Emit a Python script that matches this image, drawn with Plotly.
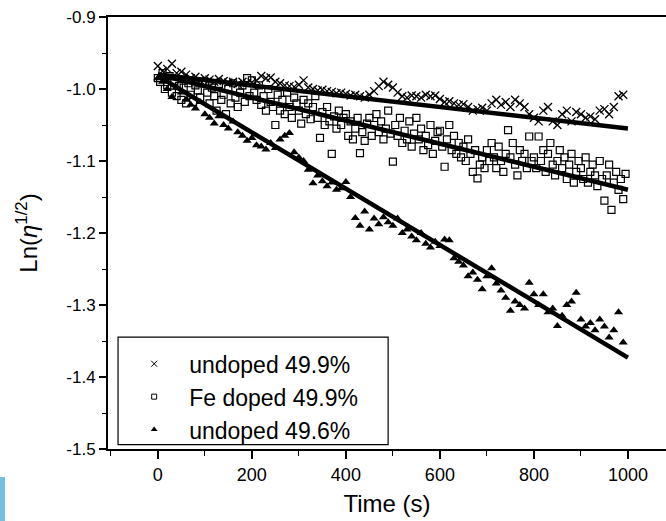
import plotly.graph_objects as go

# ---------------- data ----------------
time_10s = list(range(0, 1000, 10))
time_5s = list(range(0, 1000, 5))

undoped_499 = [
    -0.968, -0.975, -0.972, -0.965, -0.978, -0.976, -0.980, -0.985, -0.983, -0.988,
    -0.985, -0.987, -0.990, -0.986, -0.989, -0.991, -0.990, -0.993, -0.990, -0.992,
    -0.991, -0.988, -0.982, -0.985, -0.984, -0.990, -0.992, -0.995, -0.996, -0.997,
    -0.994, -0.988, -0.998, -1.000, -1.002, -1.001, -1.003, -1.004, -1.006, -1.005,
    -1.007, -1.009, -1.008, -1.010, -1.012, -1.008, -1.003, -0.996, -0.990, -0.994,
    -0.998, -1.005, -1.010, -1.012, -1.009, -1.010, -1.012, -1.008, -1.010, -1.009,
    -1.014, -1.018, -1.017, -1.020, -1.022, -1.021, -1.025, -1.030, -1.028, -1.026,
    -1.030, -1.020, -1.015, -1.022, -1.018, -1.025, -1.015, -1.020, -1.025, -1.035,
    -1.040, -1.045, -1.030, -1.025, -1.045, -1.050, -1.035, -1.030, -1.045, -1.032,
    -1.035, -1.040, -1.038, -1.042, -1.030, -1.028, -1.035, -1.025, -1.010, -1.008,
]

fe_doped_499 = [
    -0.985, -0.990, -0.978, -1.000, -0.995, -0.982, -1.005, -0.990, -1.010, -0.996,
    -1.015, -0.998, -1.020, -0.992, -1.008, -1.018, -0.995, -1.002, -1.012, -0.990,
    -0.990, -1.005, -1.020, -0.998, -1.010, -1.030, -0.993, -1.015, -1.008, -1.035,
    -1.000, -1.020, -0.992, -1.012, -1.025, -1.005, -0.995, -1.018, -0.985, -1.010,
    -0.988, -1.005, -1.015, -0.995, -1.022, -1.010, -1.030, -1.000, -1.018, -1.025,
    -1.050, -1.008, -1.030, -1.015, -1.035, -1.005, -1.025, -1.040, -1.012, -1.020,
    -1.030, -1.048, -1.015, -1.035, -1.020, -1.042, -1.025, -1.010, -1.040, -1.068,
    -1.032, -1.050, -1.025, -1.045, -1.090, -1.038, -1.055, -1.030, -1.050, -1.040,
    -1.035, -1.065, -1.045, -1.070, -1.055, -1.040, -1.089, -1.060, -1.072, -1.048,
    -1.040, -1.065, -1.050, -1.035, -1.060, -1.045, -1.070, -1.055, -1.030, -1.062,
    -1.101, -1.050, -1.065, -1.040, -1.075, -1.058, -1.070, -1.045, -1.080, -1.062,
    -1.040, -1.070, -1.055, -1.085, -1.065, -1.078, -1.050, -1.090, -1.072, -1.060,
    -1.058, -1.080, -1.108, -1.070, -1.050, -1.085, -1.065, -1.090, -1.075, -1.095,
    -1.080, -1.100, -1.070, -1.090, -1.115, -1.085, -1.124, -1.105, -1.095, -1.110,
    -1.085, -1.100, -1.075, -1.095, -1.110, -1.080, -1.100, -1.115, -1.090, -1.057,
    -1.095, -1.075, -1.105, -1.120, -1.085, -1.100, -1.090, -1.110, -1.066, -1.100,
    -1.095, -1.110, -1.066, -1.100, -1.085, -1.115, -1.090, -1.075, -1.105, -1.120,
    -1.100, -1.085, -1.110, -1.095, -1.125, -1.105, -1.090, -1.130, -1.115, -1.100,
    -1.110, -1.125, -1.095, -1.130, -1.115, -1.105, -1.120, -1.135, -1.100, -1.125,
    -1.155, -1.120, -1.105, -1.168, -1.130, -1.115, -1.140, -1.125, -1.153, -1.118,
]

undoped_496 = [
    -0.985, -0.990, -1.000, -1.011, -0.998, -1.005, -1.015, -1.022, -1.027, -1.018,
    -1.035, -1.040, -1.048, -1.038, -1.050, -1.055, -1.045, -1.060, -1.065, -1.072,
    -1.068, -1.078, -1.080, -1.084, -1.075, -1.082, -1.070, -1.065, -1.061, -1.088,
    -1.095, -1.100, -1.112, -1.131, -1.120, -1.128, -1.135, -1.130, -1.140, -1.138,
    -1.129, -1.150, -1.179, -1.190, -1.170, -1.195, -1.180, -1.188, -1.178, -1.185,
    -1.190, -1.180, -1.200, -1.195, -1.205, -1.210, -1.200, -1.215, -1.220, -1.212,
    -1.218, -1.209, -1.210, -1.235, -1.240, -1.245, -1.260, -1.255, -1.265, -1.278,
    -1.260, -1.249, -1.270, -1.280, -1.290, -1.308, -1.295, -1.300, -1.305, -1.269,
    -1.285, -1.300, -1.285, -1.310, -1.305, -1.329, -1.315, -1.300, -1.295, -1.283,
    -1.320, -1.330, -1.325, -1.335, -1.320, -1.330, -1.345, -1.335, -1.310, -1.352,
]

fit_x = [0, 1000]
fit_undoped_499 = [-0.980, -1.055]
fit_fe_doped_499 = [-0.980, -1.140]
fit_undoped_496 = [-0.982, -1.373]

x_tick_vals = [0, 200, 400, 600, 800, 1000]
x_tick_text = ["0", "200", "400", "600", "800", "1000"]
y_tick_vals = [-1.5, -1.4, -1.3, -1.2, -1.1, -1.0, -0.9]
y_tick_text = ["-1.5", "-1.4", "-1.3", "-1.2", "-1.1", "-1.0", "-0.9"]

legend_names = ["undoped 49.9%", "Fe doped 49.9%", "undoped 49.6%"]

# ---------------- figure ----------------
FONT = "Liberation Sans, Arial, sans-serif"
fig = go.Figure()

fig.add_trace(go.Scatter(
    x=time_10s, y=undoped_499, mode="markers", showlegend=False,
    marker=dict(symbol="x-thin-open", size=8, color="black", line=dict(width=1.3, color="black")),
))
fig.add_trace(go.Scatter(
    x=time_5s, y=fe_doped_499, mode="markers", showlegend=False,
    marker=dict(symbol="square-open", size=7, color="black", line=dict(width=1.2, color="black")),
))
fig.add_trace(go.Scatter(
    x=time_10s, y=undoped_496, mode="markers", showlegend=False,
    marker=dict(symbol="triangle-up", size=8, color="black", line=dict(width=0)),
))

for fy in (fit_undoped_499, fit_fe_doped_499, fit_undoped_496):
    fig.add_trace(go.Scatter(
        x=fit_x, y=fy, mode="lines", showlegend=False,
        line=dict(color="black", width=4.5),
    ))

# legend-only entries with small symbols
legend_markers = [
    dict(symbol="x-thin-open", size=6, color="black", line=dict(width=1, color="black")),
    dict(symbol="square-open", size=5, color="black", line=dict(width=1, color="black")),
    dict(symbol="triangle-up", size=6, color="black", line=dict(width=0)),
]
for name, mk in zip(legend_names, legend_markers):
    fig.add_trace(go.Scatter(x=[None], y=[None], mode="markers", name=name, marker=mk))

fig.update_layout(
    width=666, height=521,
    margin=dict(l=108, r=0, t=17, b=72),
    paper_bgcolor="white", plot_bgcolor="white",
    font=dict(family=FONT, color="black", size=17),
    showlegend=True,
    legend=dict(
        x=0.02, y=0.247, xanchor="left", yanchor="top",
        bgcolor="rgba(0,0,0,0)", borderwidth=0,
        font=dict(size=23, family=FONT, color="black"),
        itemwidth=60,
        tracegroupgap=0,
    ),
    xaxis=dict(
        range=[-106, 1081],
        tickvals=x_tick_vals, ticktext=x_tick_text,
        ticks="outside", ticklen=8, tickwidth=1.5, tickcolor="black",
        showline=True, linecolor="black", linewidth=2, mirror=True,
        showgrid=False, zeroline=False,
        minor=dict(ticks="outside", ticklen=5, tickwidth=1.2, tickcolor="black", dtick=100, tick0=0, showgrid=False),
        tickfont=dict(size=18),
        title=dict(text="Time (s)", font=dict(size=24), standoff=12),
    ),
    yaxis=dict(
        range=[-1.5, -0.9],
        tickvals=y_tick_vals, ticktext=y_tick_text,
        ticks="outside", ticklen=7, tickwidth=1.5, tickcolor="black",
        showline=True, linecolor="black", linewidth=2, mirror=False,
        showgrid=False, zeroline=False,
        minor=dict(ticks="outside", ticklen=4, tickwidth=1.2, tickcolor="black", dtick=0.05, tick0=-1.5, showgrid=False),
        tickfont=dict(size=17),
        title=dict(text="Ln(<i>η</i><sup>1/2</sup>)", font=dict(size=24), standoff=22),
    ),
    shapes=[
        # legend frame
        dict(type="rect", xref="paper", yref="paper", x0=0.018, x1=0.502, y0=0.01, y1=0.259,
             line=dict(color="black", width=1.2), fillcolor="rgba(0,0,0,0)", layer="above"),
        # light blue strip at the lower left of the page
        dict(type="rect", xref="paper", yref="paper", x0=-0.1935, x1=-0.1846, y0=-0.1667, y1=-0.0648,
             line=dict(width=0), fillcolor="#72c1e3", layer="above"),
    ],
)

fig.write_html(
    "out.html",
    config={"displayModeBar": False},
    post_script="document.body.style.margin='0px';document.body.style.padding='0px';",
)
